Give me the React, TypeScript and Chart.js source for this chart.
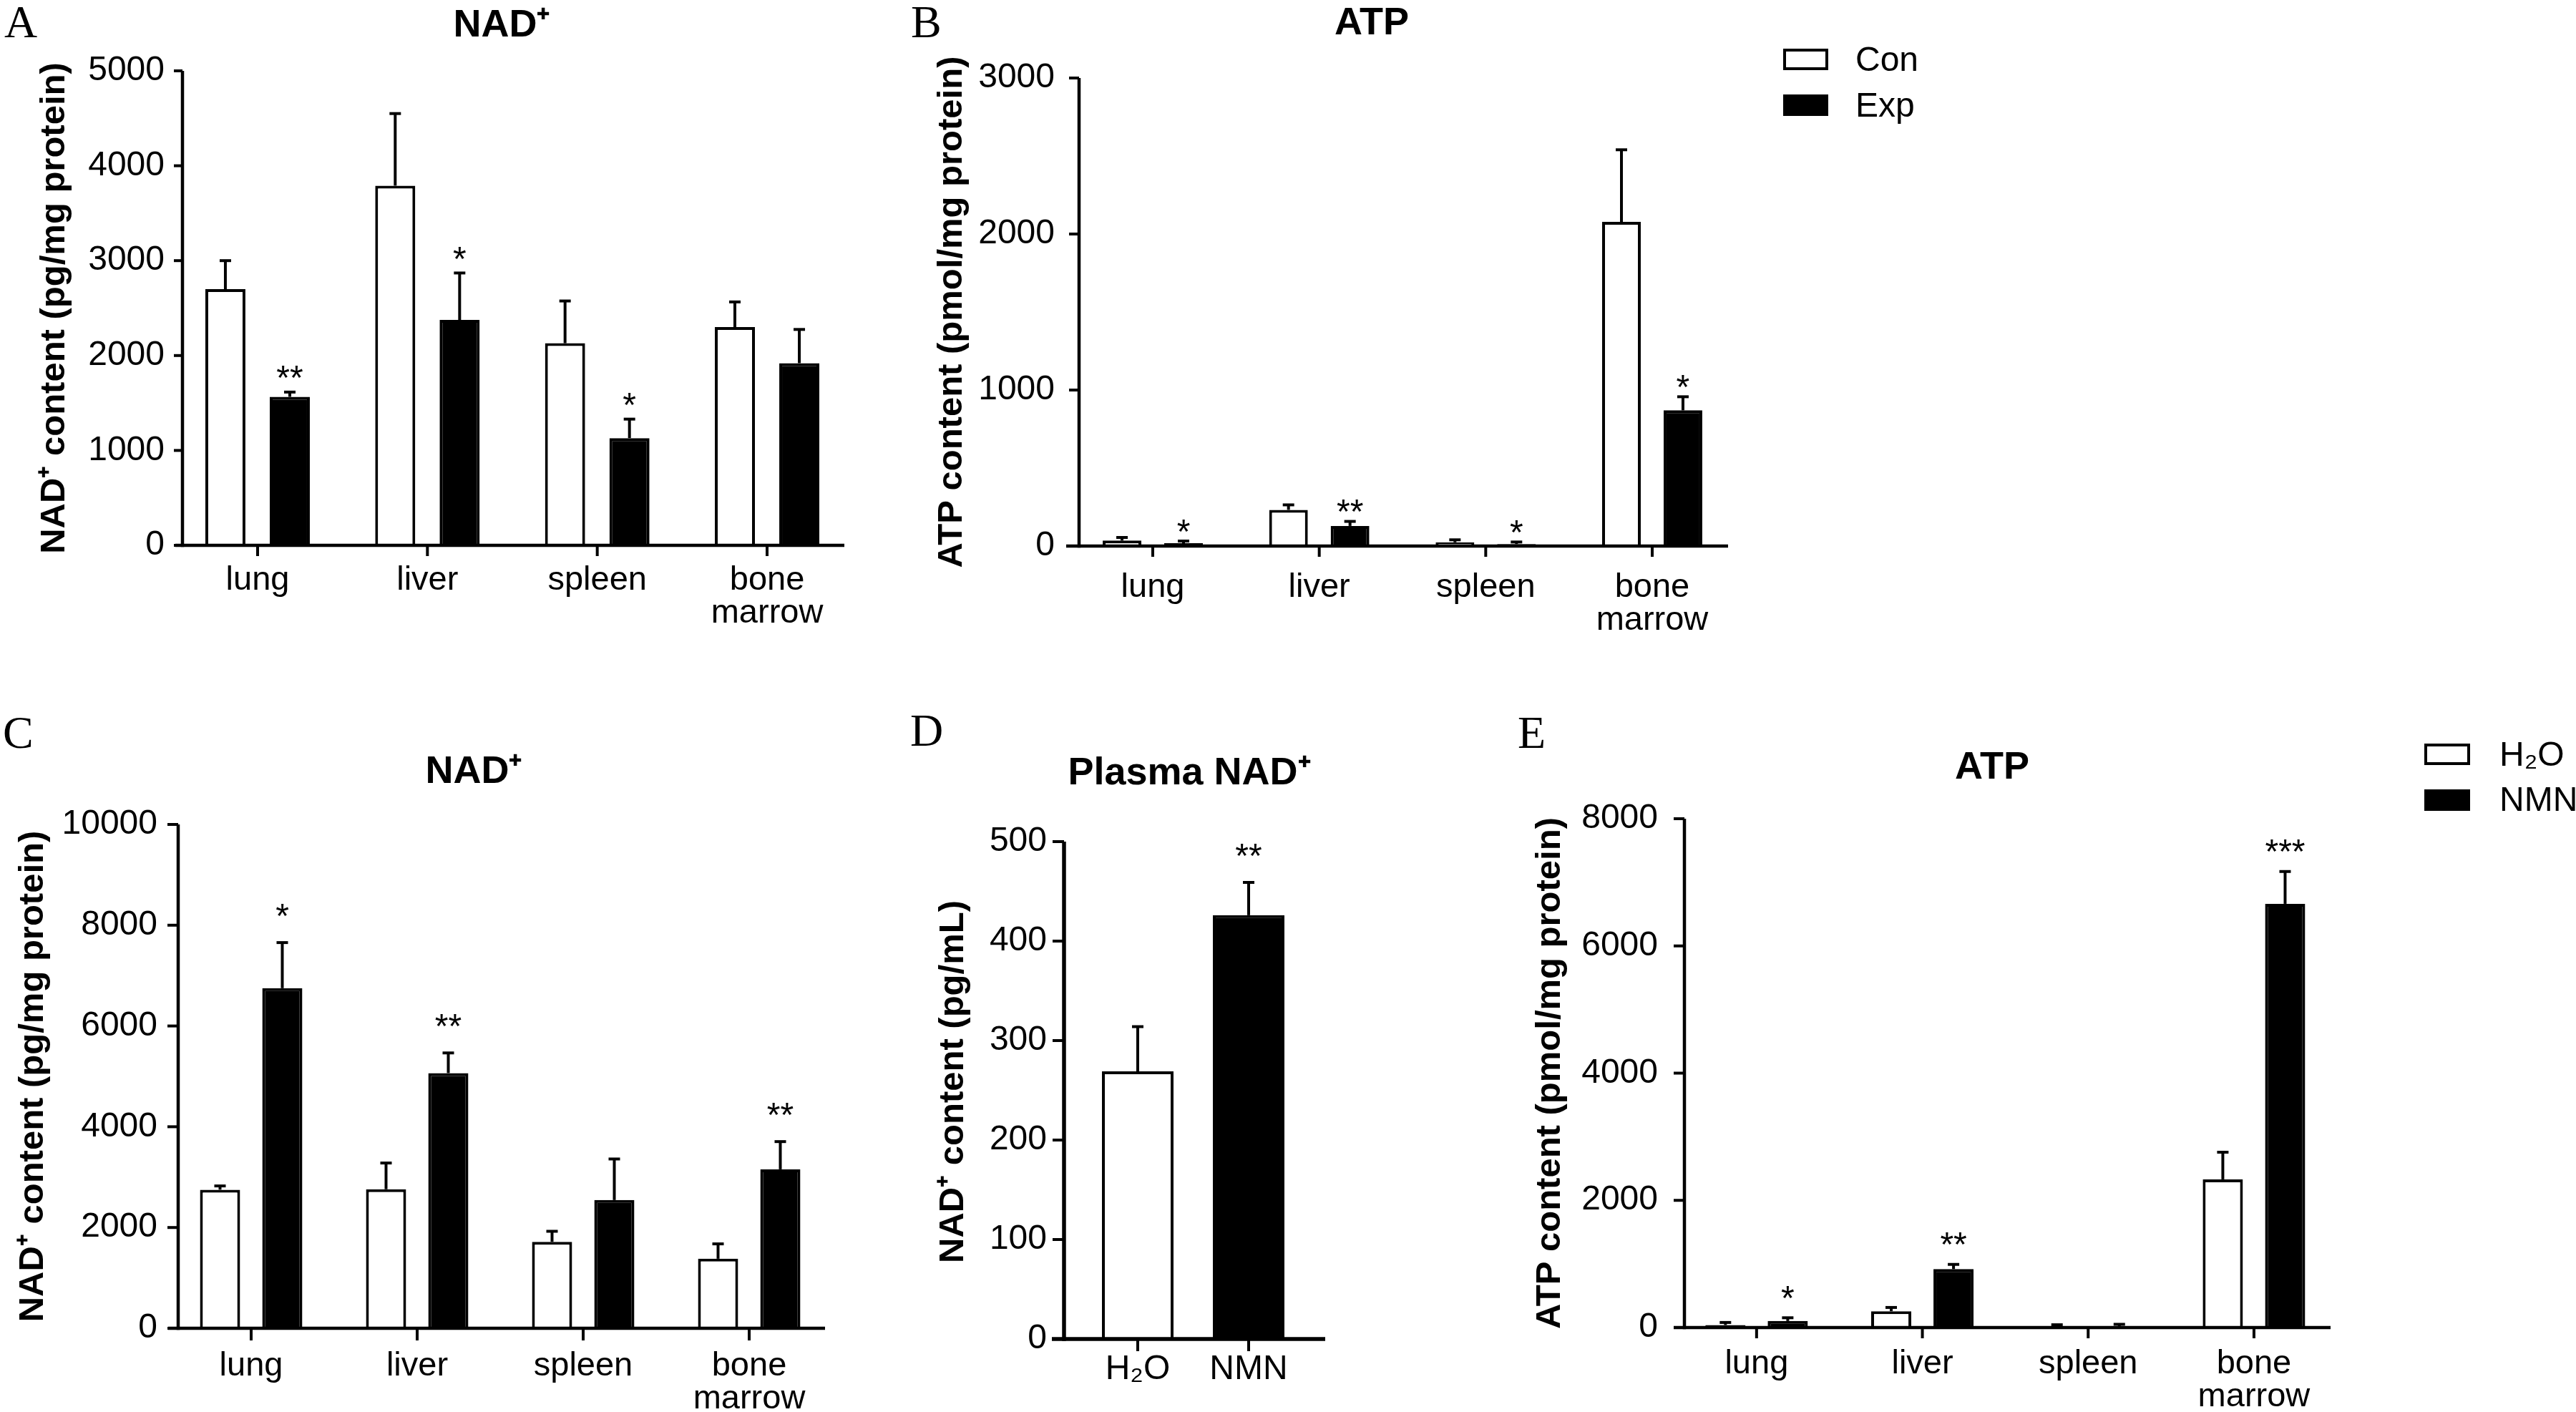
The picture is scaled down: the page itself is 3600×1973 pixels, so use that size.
import React, { useEffect, useRef } from 'react';
import { Chart, registerables } from 'chart.js';

Chart.register(...registerables);

const SANS = "'Liberation Sans', Arial, Helvetica, sans-serif";
const SERIF = "'Liberation Serif', 'Times New Roman', Times, serif";

// ---------------- data ----------------
const organs: any[] = ['lung', 'liver', 'spleen', ['bone', 'marrow']];
const treatments = ['H₂O', 'NMN'];
const seriesAB = ['Con', 'Exp'];
const seriesCDE = ['H₂O', 'NMN'];

// A: NAD+ (pg/mg protein)
const aConMean = [2700, 3790, 2130, 2300];
const aConSem = [300, 760, 445, 265];
const aExpMean = [1565, 2375, 1130, 1920];
const aExpSem = [50, 495, 200, 355];
const aExpSig = ['**', '*', '*', ''];
const aTicks = [0, 1000, 2000, 3000, 4000, 5000];

// B: ATP (pmol/mg protein)
const bConMean = [35, 232, 24, 2078];
const bConSem = [20, 32, 16, 462];
const bExpMean = [18, 129, 13, 870];
const bExpSem = [14, 29, 13, 87];
const bExpSig = ['*', '**', '*', '*'];
const bTicks = [0, 1000, 2000, 3000];

// C: NAD+ (pg/mg protein)
const cH2oMean = [2750, 2760, 1715, 1380];
const cH2oSem = [75, 520, 210, 295];
const cNmnMean = [6750, 5065, 2545, 3155];
const cNmnSem = [905, 400, 815, 550];
const cNmnSig = ['*', '**', '', '**'];
const cTicks = [0, 2000, 4000, 6000, 8000, 10000];

// D: Plasma NAD+ (pg/mL)
const dMean = [269, 426];
const dSem = [45, 33];
const dSig = ['', '**'];
const dTicks = [0, 100, 200, 300, 400, 500];

// E: ATP (pmol/mg protein)
const eH2oMean = [40, 257, 15, 2330];
const eH2oSem = [40, 59, 29, 427];
const eNmnMean = [103, 919, 15, 6662];
const eNmnSem = [51, 74, 36, 508];
const eNmnSig = ['*', '**', '', '***'];
const eTicks = [0, 2000, 4000, 6000, 8000];

// ---------------- plugin ----------------
const prismPlugin: any = {
  id: 'prism',
  afterDatasetsDraw(chart: any, _args: any, o: any) {
    const { ctx } = chart;
    const y = chart.scales.y;
    ctx.save();
    ctx.strokeStyle = '#000';
    ctx.fillStyle = '#000';
    ctx.lineCap = 'butt';
    chart.data.datasets.forEach((ds: any, di: number) => {
      const meta = chart.getDatasetMeta(di);
      meta.data.forEach((bar: any, i: number) => {
        const sem = ds.sem ? ds.sem[i] : 0;
        const top = y.getPixelForValue(ds.data[i] + sem);
        const cx = bar.x;
        ctx.lineWidth = o.errWidth;
        ctx.beginPath();
        ctx.moveTo(cx, bar.y);
        ctx.lineTo(cx, top);
        ctx.stroke();
        ctx.beginPath();
        ctx.moveTo(cx - o.capHalf, top);
        ctx.lineTo(cx + o.capHalf, top);
        ctx.stroke();
        const sig = ds.sig ? ds.sig[i] : '';
        if (sig) {
          ctx.font = `${o.starSize}px ${SANS}`;
          ctx.textAlign = 'center';
          ctx.textBaseline = 'alphabetic';
          ctx.fillText(sig, cx, top - o.starGap + 0.575 * o.starSize);
        }
      });
    });
    ctx.restore();
  },
  afterDraw(chart: any, _args: any, o: any) {
    const { ctx, chartArea: ca } = chart;
    const x = chart.scales.x;
    const y = chart.scales.y;
    ctx.save();
    ctx.strokeStyle = '#000';
    ctx.fillStyle = '#000';
    ctx.lineCap = 'butt';
    // axes
    const ax = ca.left + o.yAxisDx;
    ctx.lineWidth = o.axisWidth;
    ctx.beginPath();
    ctx.moveTo(ax, ca.top);
    ctx.lineTo(ax, ca.bottom + o.axisWidth / 2);
    ctx.stroke();
    ctx.beginPath();
    ctx.moveTo(ca.left + o.xFromDx, ca.bottom);
    ctx.lineTo(ca.right + o.xToDx, ca.bottom);
    ctx.stroke();
    ctx.lineWidth = o.tickWidth;
    y.ticks.forEach((t: any) => {
      const py = y.getPixelForValue(t.value);
      ctx.beginPath();
      ctx.moveTo(ax - o.yTickLen, py);
      ctx.lineTo(ax, py);
      ctx.stroke();
    });
    x.ticks.forEach((_t: any, i: number) => {
      const px = x.getPixelForValue(i);
      ctx.beginPath();
      ctx.moveTo(px, ca.bottom);
      ctx.lineTo(px, ca.bottom + o.xTickLen);
      ctx.stroke();
    });
    // panel title
    ctx.font = `bold ${o.titleSize}px ${SANS}`;
    ctx.textAlign = 'center';
    ctx.textBaseline = 'alphabetic';
    ctx.fillText(o.title, o.titleX, o.titleY + 0.358 * o.titleSize);
    // panel letter
    ctx.font = `${o.letterSize}px ${SERIF}`;
    ctx.textAlign = 'left';
    ctx.fillText(o.letter, o.letterX, o.letterBase);
    // y axis title
    ctx.save();
    ctx.translate(o.yTitleX + 0.253 * o.yTitleSize, (ca.top + ca.bottom) / 2 + (o.yTitleDy || 0));
    ctx.rotate(-Math.PI / 2);
    ctx.font = `bold ${o.yTitleSize}px ${SANS}`;
    ctx.textAlign = 'center';
    ctx.textBaseline = 'alphabetic';
    ctx.fillText(o.yTitle, 0, 0);
    ctx.restore();
    // legend
    if (o.legend) {
      const lg = o.legend;
      chart.data.datasets.forEach((ds: any, i: number) => {
        const top = lg.tops[i];
        ctx.fillStyle = ds.backgroundColor;
        ctx.fillRect(lg.x, top, lg.w, lg.h);
        ctx.lineWidth = lg.lineWidth;
        ctx.strokeStyle = '#000';
        ctx.strokeRect(lg.x + lg.lineWidth / 2, top + lg.lineWidth / 2, lg.w - lg.lineWidth, lg.h - lg.lineWidth);
        ctx.fillStyle = '#000';
        ctx.font = `${lg.size}px ${SANS}`;
        ctx.textAlign = 'left';
        ctx.textBaseline = 'alphabetic';
        ctx.fillText(ds.label, lg.textX, lg.bases[i]);
      });
    }
    ctx.restore();
  },
};

// ---------------- panel component ----------------
type Spec = any;

function Panel({ s }: { s: Spec }) {
  const ref = useRef<HTMLCanvasElement | null>(null);
  useEffect(() => {
    if (!ref.current) return;
    const { box, area } = s;
    const X = (px: number) => px - box.x;
    const Y = (py: number) => py - box.y;
    const padTop = area.t - box.y;
    const padRight = box.x + box.w - area.r;
    const yWidth = area.l - box.x;
    const xHeight = box.y + box.h - area.b;
    const xLine = s.xLineHeight;
    const xPad = s.xLabelBase - area.b - xLine / 2 - 0.3465 * s.xFont;
    const chart = new Chart(ref.current, {
      type: 'bar',
      data: {
        labels: s.labels,
        datasets: s.datasets.map((d: any) => ({
          label: d.label,
          data: d.data,
          sem: d.sem,
          sig: d.sig,
          backgroundColor: d.fill,
          borderColor: '#000',
          borderWidth: s.barBorder,
          categoryPercentage: s.catPct,
          barPercentage: s.barPct,
        })),
      },
      options: {
        responsive: false,
        animation: false,
        devicePixelRatio: 1,
        events: [],
        layout: { padding: { left: 0, top: padTop, right: padRight, bottom: 0 } },
        plugins: {
          legend: { display: false },
          title: { display: false },
          tooltip: { enabled: false },
          prism: {
            errWidth: 4,
            capHalf: 8,
            starSize: 48,
            starGap: s.starGap,
            axisWidth: s.axisWidth,
            tickWidth: 4,
            yAxisDx: s.yAxisX - area.l,
            xFromDx: s.xAxisFrom - area.l,
            xToDx: s.xAxisTo - area.r,
            yTickLen: s.yTickLen,
            xTickLen: s.xTickLen,
            title: s.title,
            titleSize: s.titleSize,
            titleX: X(s.titleX),
            titleY: Y(s.titleY),
            letter: s.letter,
            letterSize: 64,
            letterX: X(s.letterX),
            letterBase: Y(s.letterBase),
            yTitle: s.yTitle,
            yTitleSize: s.yTitleSize,
            yTitleX: X(s.yTitleX),
            yTitleDy: s.yTitleDy || 0,
            legend: s.legend
              ? {
                  x: X(s.legend.x),
                  w: s.legend.w,
                  h: s.legend.h,
                  tops: s.legend.tops.map(Y),
                  bases: s.legend.bases.map(Y),
                  textX: X(s.legend.textX),
                  size: 48,
                  lineWidth: 4,
                }
              : null,
          },
        } as any,
        scales: {
          x: {
            type: 'category',
            offset: true,
            grid: { display: false, drawTicks: false },
            border: { display: false },
            ticks: {
              color: '#000',
              font: { family: SANS, size: s.xFont, lineHeight: xLine / s.xFont },
              padding: xPad,
              maxRotation: 0,
              minRotation: 0,
              autoSkip: false,
            },
            afterFit: (sc: any) => {
              sc.height = xHeight;
            },
          },
          y: {
            type: 'linear',
            min: s.ticks[0],
            max: s.ticks[s.ticks.length - 1],
            grid: { display: false, drawTicks: false },
            border: { display: false },
            ticks: {
              color: '#000',
              font: { family: SANS, size: 48 },
              padding: area.l - s.yLabelRight,
              autoSkip: false,
              callback: (v: any) => String(v),
            },
            afterBuildTicks: (sc: any) => {
              sc.ticks = s.ticks.map((v: number) => ({ value: v }));
            },
            afterFit: (sc: any) => {
              sc.width = yWidth;
            },
          },
        },
      } as any,
      plugins: [prismPlugin],
    });
    return () => chart.destroy();
  }, [s]);
  return (
    <canvas
      ref={ref}
      width={s.box.w}
      height={s.box.h}
      style={{ position: 'absolute', left: s.box.x, top: s.box.y, width: s.box.w, height: s.box.h }}
    />
  );
}

const common = {
  barBorder: 4,
  axisWidth: 4.5,
  xFont: 47,
  xLineHeight: 46,
  titleSize: 54,
  yTitleSize: 49,
};

const specs: Spec[] = [
  {
    ...common,
    box: { x: 0, y: 0, w: 1230, h: 900 },
    area: { l: 241.3, t: 99, r: 1190.7, b: 762 },
    labels: organs,
    datasets: [
      { label: seriesAB[0], data: aConMean, sem: aConSem, sig: null, fill: '#ffffff' },
      { label: seriesAB[1], data: aExpMean, sem: aExpSem, sig: aExpSig, fill: '#000000' },
    ],
    ticks: aTicks,
    catPct: 0.7585,
    barPct: 0.622,
    title: 'NAD⁺',
    titleX: 701,
    titleY: 32,
    letter: 'A',
    letterX: 6,
    letterBase: 52,
    yTitle: 'NAD⁺ content (pg/mg protein)',
    yTitleX: 78,
    yAxisX: 255,
    xAxisFrom: 245,
    xAxisTo: 1180,
    yTickLen: 12,
    xTickLen: 15,
    yLabelRight: 230,
    xLabelBase: 827,
    starGap: 31,
  },
  {
    ...common,
    box: { x: 1240, y: 0, w: 1560, h: 900 },
    area: { l: 1494.7, t: 109, r: 2425.3, b: 763 },
    labels: organs,
    datasets: [
      { label: seriesAB[0], data: bConMean, sem: bConSem, sig: null, fill: '#ffffff' },
      { label: seriesAB[1], data: bExpMean, sem: bExpSem, sig: bExpSig, fill: '#000000' },
    ],
    ticks: bTicks,
    catPct: 0.739,
    barPct: 0.628,
    title: 'ATP',
    titleX: 1917,
    titleY: 29,
    letter: 'B',
    letterX: 1273,
    letterBase: 52,
    yTitle: 'ATP content (pmol/mg protein)',
    yTitleX: 1332,
    yAxisX: 1508,
    xAxisFrom: 1490,
    xAxisTo: 2415,
    yTickLen: 14,
    xTickLen: 15,
    yLabelRight: 1474,
    xLabelBase: 837,
    starGap: 25,
    legend: { x: 2492, w: 63, h: 30, tops: [68, 132], bases: [99, 163], textX: 2593 },
  },
  {
    ...common,
    box: { x: 0, y: 960, w: 1180, h: 1013 },
    area: { l: 235, t: 1152, r: 1163, b: 1856 },
    labels: organs,
    datasets: [
      { label: seriesCDE[0], data: cH2oMean, sem: cH2oSem, sig: null, fill: '#ffffff' },
      { label: seriesCDE[1], data: cNmnMean, sem: cNmnSem, sig: cNmnSig, fill: '#000000' },
    ],
    ticks: cTicks,
    catPct: 0.75,
    barPct: 0.644,
    title: 'NAD⁺',
    titleX: 662,
    titleY: 1075,
    letter: 'C',
    letterX: 4,
    letterBase: 1045,
    yTitle: 'NAD⁺ content (pg/mg protein)',
    yTitleX: 48,
    yAxisX: 249,
    xAxisFrom: 235,
    xAxisTo: 1153,
    yTickLen: 15,
    xTickLen: 17,
    yLabelRight: 220,
    xLabelBase: 1925,
    starGap: 49,
  },
  {
    ...common,
    box: { x: 1180, y: 960, w: 880, h: 1013 },
    area: { l: 1512.5, t: 1176, r: 1822.5, b: 1871 },
    labels: treatments,
    datasets: [
      { label: 'Plasma NAD⁺', data: dMean, sem: dSem, sig: dSig, fill: ['#ffffff', '#000000'] },
    ],
    ticks: dTicks,
    catPct: 1,
    barPct: 0.645,
    axisWidth: 5.5,
    xFont: 48,
    title: 'Plasma NAD⁺',
    titleX: 1662,
    titleY: 1077,
    letter: 'D',
    letterX: 1272,
    letterBase: 1042,
    yTitle: 'NAD⁺ content (pg/mL)',
    yTitleX: 1334,
    yTitleDy: -12,
    yAxisX: 1487,
    xAxisFrom: 1470,
    xAxisTo: 1852,
    yTickLen: 16,
    xTickLen: 17,
    yLabelRight: 1463,
    xLabelBase: 1930,
    starGap: 49,
  },
  {
    ...common,
    box: { x: 2060, y: 960, w: 1540, h: 1013 },
    area: { l: 2339, t: 1144, r: 3265.8, b: 1855 },
    labels: organs,
    datasets: [
      { label: seriesCDE[0], data: eH2oMean, sem: eH2oSem, sig: null, fill: '#ffffff' },
      { label: seriesCDE[1], data: eNmnMean, sem: eNmnSem, sig: eNmnSig, fill: '#000000' },
    ],
    ticks: eTicks,
    catPct: 0.7515,
    barPct: 0.644,
    title: 'ATP',
    titleX: 2784,
    titleY: 1069,
    letter: 'E',
    letterX: 2121,
    letterBase: 1045,
    yTitle: 'ATP content (pmol/mg protein)',
    yTitleX: 2168,
    yAxisX: 2354,
    xAxisFrom: 2339,
    xAxisTo: 3257,
    yTickLen: 15,
    xTickLen: 15,
    yLabelRight: 2317,
    xLabelBase: 1922,
    starGap: 39,
    legend: { x: 3388, w: 64, h: 30, tops: [1039, 1103], bases: [1070, 1133], textX: 3493 },
  },
];

export default function App() {
  return (
    <div
      style={{
        position: 'absolute',
        left: 0,
        top: 0,
        width: 3600,
        height: 1973,
        background: '#ffffff',
        overflow: 'hidden',
      }}
    >
      {specs.map((s, i) => (
        <Panel key={i} s={s} />
      ))}
    </div>
  );
}
